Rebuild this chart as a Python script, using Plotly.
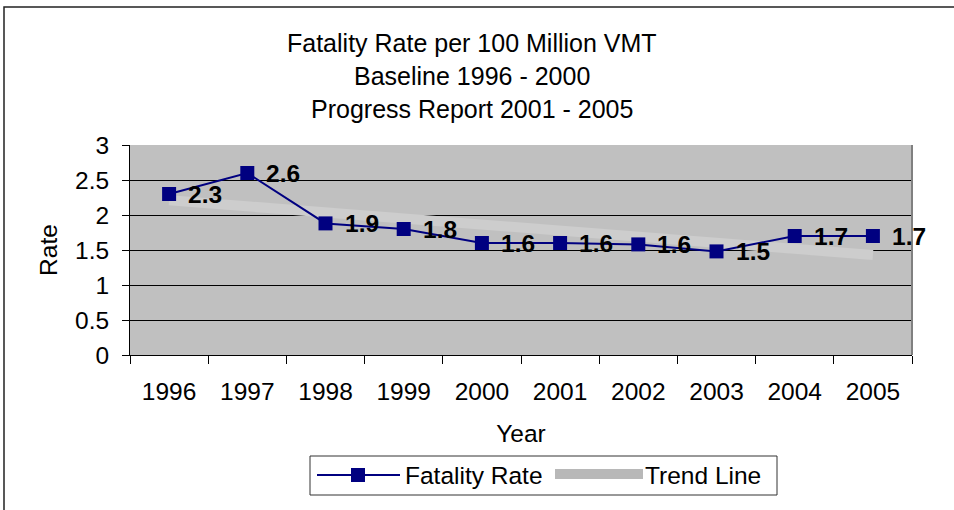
import plotly.graph_objects as go

# ---- data ----
years = ["1996", "1997", "1998", "1999", "2000", "2001", "2002", "2003", "2004", "2005"]
fatality_rate = [2.3, 2.6, 1.88, 1.8, 1.6, 1.6, 1.58, 1.48, 1.7, 1.7]
rate_labels = ["2.3", "2.6", "1.9", "1.8", "1.6", "1.6", "1.6", "1.5", "1.7", "1.7"]
trend_years = ["1996", "2005"]
trend_values = [2.21, 1.43]
y_ticks = [0, 0.5, 1, 1.5, 2, 2.5, 3]
y_tick_text = ["0", "0.5", "1", "1.5", "2", "2.5", "3"]
title_lines = ["Fatality Rate per 100 Million VMT", "Baseline 1996 - 2000", "Progress Report 2001 - 2005"]

FONT = "Liberation Sans, Arial, sans-serif"
FS = 24.5
FT = 25
NAVY = "#000080"
TREND = "#CDCDCD"

W, H = 954, 510
L, R, T, B = 130, 42, 145, 155
PW, PH = W - L - R, H - T - B


def px(x):
    return (x - L) / PW


def py(y):
    return (H - B - y) / PH


fig = go.Figure()

fig.add_trace(go.Scatter(
    x=trend_years, y=trend_values, mode="lines",
    line=dict(color=TREND, width=10), name="Trend Line",
    showlegend=False, hoverinfo="skip"))

fig.add_trace(go.Scatter(
    x=years, y=fatality_rate, mode="lines+markers",
    line=dict(color=NAVY, width=2),
    marker=dict(symbol="square", size=14, color=NAVY),
    cliponaxis=False, name="Fatality Rate", showlegend=False))

annotations = []
# data labels, placed at the data coordinates (category index on the x axis)
for idx, (val, lab) in enumerate(zip(fatality_rate, rate_labels)):
    annotations.append(dict(
        text="<b>" + lab + "</b>", x=idx, y=val, xref="x", yref="y",
        xanchor="left", yanchor="middle", xshift=17, showarrow=False,
        font=dict(family=FONT, size=FS, color="black")))

for i, line in enumerate(title_lines):
    annotations.append(dict(
        text=line, xref="paper", yref="paper", x=px(472), y=py(43 + 33 * i),
        xanchor="center", yanchor="middle", showarrow=False,
        font=dict(family=FONT, size=FT, color="black")))

# manual legend
annotations.append(dict(text="Fatality Rate", xref="paper", yref="paper",
                        x=px(403), y=py(475), xanchor="left", yanchor="middle",
                        showarrow=False, font=dict(family=FONT, size=FS, color="black")))
annotations.append(dict(text="Trend Line", xref="paper", yref="paper",
                        x=px(643), y=py(475), xanchor="left", yanchor="middle",
                        showarrow=False, font=dict(family=FONT, size=FS, color="black")))

shapes = [
    # outer chart border
    dict(type="rect", xref="paper", yref="paper", x0=px(4), x1=px(1000), y0=py(560), y1=py(7),
         line=dict(color="#222222", width=1.5), layer="below"),
    # plot area right border
    dict(type="line", xref="paper", yref="paper", x0=1, x1=1, y0=0, y1=1,
         line=dict(color="#808080", width=2)),
    # legend box
    dict(type="rect", xref="paper", yref="paper", x0=px(310), x1=px(777), y0=py(495), y1=py(456),
         line=dict(color="#333333", width=1), fillcolor="white", layer="below"),
    dict(type="line", xref="paper", yref="paper", x0=px(317), x1=px(400), y0=py(475), y1=py(475),
         line=dict(color=NAVY, width=2)),
    dict(type="rect", xref="paper", yref="paper", x0=px(351), x1=px(365), y0=py(482), y1=py(468),
         line=dict(color=NAVY, width=0), fillcolor=NAVY),
    dict(type="line", xref="paper", yref="paper", x0=px(555), x1=px(643), y0=py(474), y1=py(474),
         line=dict(color="#B8B8B8", width=10)),
]

fig.update_layout(
    width=W, height=H,
    margin=dict(l=L, r=R, t=T, b=B, autoexpand=False),
    paper_bgcolor="white", plot_bgcolor="#C0C0C0",
    font=dict(family=FONT, size=FS, color="black"),
    showlegend=False,
    annotations=annotations, shapes=shapes,
    xaxis=dict(
        type="category", categoryorder="array", categoryarray=years,
        range=[-0.5, 9.5], showgrid=False, zeroline=False,
        showline=True, linecolor="black", linewidth=1,
        ticks="outside", tickson="boundaries", ticklen=8, tickcolor="black", tickwidth=1,
        ticklabelstandoff=15,
        tickfont=dict(family=FONT, size=FS, color="black"),
        title=dict(text="Year", font=dict(family=FONT, size=FS, color="black"), standoff=20),
    ),
    yaxis=dict(
        range=[0, 3], tickvals=y_ticks, ticktext=y_tick_text,
        showgrid=True, gridcolor="black", gridwidth=1, zeroline=False,
        showline=True, linecolor="black", linewidth=1,
        ticks="outside", ticklen=7, tickcolor="black", tickwidth=1,
        ticklabelstandoff=8,
        tickfont=dict(family=FONT, size=FS, color="black"),
        title=dict(text="Rate", font=dict(family=FONT, size=FS, color="black"), standoff=10),
    ),
)

fig.write_html("out.html", config={"displayModeBar": False},
               post_script="document.body.style.margin='0px';")
